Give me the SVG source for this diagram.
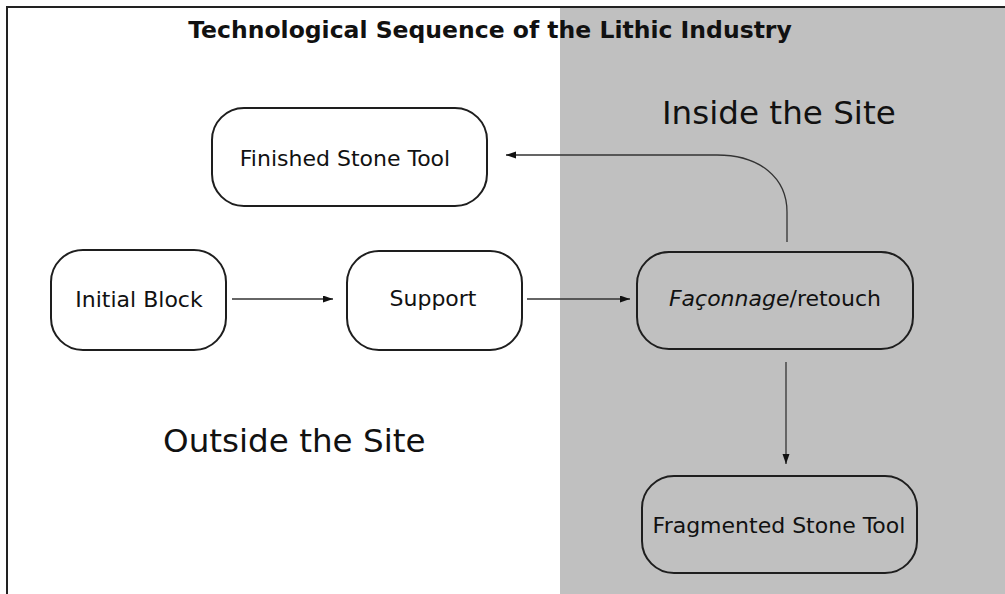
<svg xmlns="http://www.w3.org/2000/svg" width="1005" height="594" viewBox="0 0 1005 594">
<defs>
<style>
.box{fill:none;stroke:#1e1e1e;stroke-width:2}
.lbl{font-family:"DejaVu Sans",sans-serif;font-size:22px;fill:#111;text-anchor:middle}
.zone{font-family:"DejaVu Sans",sans-serif;font-size:32.6px;fill:#111}
.title{font-family:"DejaVu Sans",sans-serif;font-size:23.5px;font-weight:bold;fill:#111;text-anchor:middle}
.conn{fill:none;stroke:#333;stroke-width:1.3}
</style>
<marker id="arr" markerUnits="userSpaceOnUse" markerWidth="11" markerHeight="8" refX="10" refY="3.5" orient="auto">
<path d="M0,0 L10,3.5 L0,7 z" fill="#111"/>
</marker>
</defs>
<rect x="0" y="0" width="1005" height="594" fill="#fff"/>
<rect x="560" y="8" width="445" height="586" fill="#c0c0c0"/>
<path d="M7,594 V7 H1005" fill="none" stroke="#222" stroke-width="2"/>
<text class="title" x="490" y="38">Technological Sequence of the Lithic Industry</text>
<text class="zone" x="662" y="124">Inside the Site</text>
<text class="zone" x="163" y="452">Outside the Site</text>
<g id="connectors">
<path class="conn" d="M232,299 H333" marker-end="url(#arr)"/>
<path class="conn" d="M527,299 H630" marker-end="url(#arr)"/>
<path class="conn" d="M786,362 V464" marker-end="url(#arr)"/>
<path class="conn" d="M787,242 V212 C787,178 760,155 717,155 H506" marker-end="url(#arr)"/>
</g>
<g id="finished">
<rect class="box" x="212" y="108" width="275" height="98" rx="32"/>
<text class="lbl" x="345" y="166">Finished Stone Tool</text>
</g>
<g id="initial">
<rect class="box" x="51" y="250" width="175" height="100" rx="32"/>
<text class="lbl" x="139" y="307">Initial Block</text>
</g>
<g id="support">
<rect class="box" x="347" y="251" width="175" height="99" rx="32"/>
<text class="lbl" x="433" y="306">Support</text>
</g>
<g id="faconnage">
<rect class="box" x="637" y="252" width="276" height="97" rx="32"/>
<text class="lbl" x="775" y="306"><tspan font-style="italic">Façonnage</tspan>/retouch</text>
</g>
<g id="fragmented">
<rect class="box" x="642" y="476" width="275" height="97" rx="32"/>
<text class="lbl" x="779" y="533">Fragmented Stone Tool</text>
</g>
</svg>
